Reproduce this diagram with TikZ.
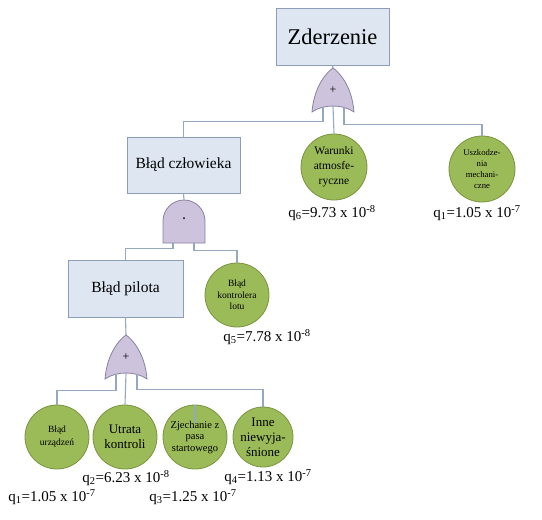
\documentclass[tikz,border=0pt]{standalone}
\usepackage{fontspec}
\setmainfont{Liberation Serif}[Ligatures=TeX]
\usetikzlibrary{calc,positioning}
\definecolor{boxfill}{HTML}{DDE6F1}
\definecolor{boxline}{HTML}{8C9DB5}
\definecolor{gatefill}{HTML}{CDC3DC}
\definecolor{gateline}{HTML}{8A80A2}
\definecolor{leaffill}{HTML}{9BBB59}
\definecolor{leafline}{HTML}{7A9440}
\definecolor{wiregray}{HTML}{95A8BF}

% OR gate, apex at (#2,#3)
\newcommand{\orgate}[3]{%
  \begin{scope}[shift={(#2,#3)}]
    \draw[gatebody] (0,0) .. controls (-6,4) and (-19,18) .. (-21,44)
      .. controls (-10,36) and (10,36) .. (21,44)
      .. controls (19,18) and (6,4) .. cycle;
    \node[font=\fontsize{12}{14}\selectfont] at (0,22) {+};
    \coordinate (#1-top) at (0,0);
    \coordinate (#1-l) at (-10,39);
    \coordinate (#1-m) at (0,38);
    \coordinate (#1-r) at (11,39);
  \end{scope}}
% AND gate, top at (#2,#3)
\newcommand{\andgate}[3]{%
  \begin{scope}[shift={(#2,#3)}]
    \draw[gatebody] (-21,43) -- (-21,21) arc (180:360:21) -- (21,43) -- cycle;
    \fill (0,18) circle (1pt);
    \coordinate (#1-top) at (0,0);
    \coordinate (#1-l) at (-11,43);
    \coordinate (#1-r) at (10,43);
  \end{scope}}

\begin{document}
\begin{tikzpicture}[x=1pt, y=-1pt,
    evbox/.style={draw=boxline, fill=boxfill, line width=0.8pt, inner sep=0pt},
    gatebody/.style={draw=gateline, fill=gatefill, line width=0.8pt},
    basic/.style={circle, draw=leafline, fill=leaffill, line width=0.8pt, inner sep=0pt, align=center},
    wire/.style={draw=wiregray, line width=1.1pt},
    prob/.style={font=\fontsize{15}{17}\selectfont, inner sep=0pt}]
  \useasboundingbox (0,0) rectangle (542,520);

  % events
  \node[evbox, minimum width=113pt, minimum height=57pt, font=\fontsize{22.5}{26}\selectfont] (zder) at (332.5,36.5) {Zderzenie};
  \node[evbox, minimum width=113pt, minimum height=56pt, font=\fontsize{15.5}{18}\selectfont] (czl) at (183.5,165) {Błąd człowieka};
  \node[evbox, minimum width=115pt, minimum height=57pt, font=\fontsize{15.5}{18}\selectfont] (pil) at (125.5,288.5) {Błąd pilota};

  % basic events
  \node[basic, minimum size=66pt, font=\fontsize{11.5}{15}\selectfont] (war) at (334,167) {Warunki\\atmosfe-\\ryczne};
  \node[basic, minimum size=66pt, font=\fontsize{8.7}{11}\selectfont] (usz) at (482,169) {Uszkodze-\\nia\\mechani-\\czne};
  \node[basic, minimum size=64pt, font=\fontsize{9.5}{11.5}\selectfont] (kon) at (237,295) {Błąd\\kontrolera\\lotu};
  \node[basic, minimum size=64pt, font=\fontsize{9.5}{13}\selectfont] (urz) at (57,437) {Błąd\\urządzeń};
  \node[basic, minimum size=64pt, font=\fontsize{13}{15}\selectfont] (utr) at (125,437) {Utrata\\kontroli};
  \node[basic, minimum size=64pt, font=\fontsize{10.5}{11.5}\selectfont] (zje) at (195,437) {Zjechanie z\\pasa\\startowego};
  \node[basic, minimum size=60pt, font=\fontsize{13}{15}\selectfont] (inn) at (263,437) {Inne\\niewyja-\\śnione};

  % gates
  \orgate{g1}{333}{68}
  \andgate{g2}{184}{200}
  \orgate{g3}{126}{335}

  % connectors
  \draw[wire] (zder.south) -- (g1-top);
  \draw[wire] (g1-l) |- ([yshift=15pt]czl.north) -- (czl.north);
  \draw[wire] (g1-m) -- (war.north);
  \draw[wire] (g1-r) |- ([yshift=11pt]usz.north) -- (usz.north);

  \draw[wire] (czl.south) -- (g2-top);
  \draw[wire] (g2-l) |- ([yshift=11pt]pil.north) -- (pil.north);
  \draw[wire] (g2-r) |- ([yshift=12pt]kon.north) -- (kon.north);

  \draw[wire] (pil.south) -- (g3-top);
  \draw[wire] (g3-l) |- ([yshift=14pt]urz.north) -- (urz.north);
  \draw[wire] (g3-m) -- (utr.north);
  \draw[wire] (g3-r) |- ([yshift=17pt]inn.north) -- (inn.north);
  \draw[wire] (zje.north |- g3-r) ++(0,49) -- (zje.north);

  % probabilities
  \node[prob] (p6) at (332,213) {q\textsubscript{6}=9.73 x 10\textsuperscript{-8}};
  \node[prob] (p1a) at (477,213) {q\textsubscript{1}=1.05 x 10\textsuperscript{-7}};
  \node[prob] (p5) at (267,337) {q\textsubscript{5}=7.78 x 10\textsuperscript{-8}};
  \node[prob] (p2) at (126,478) {q\textsubscript{2}=6.23 x 10\textsuperscript{-8}};
  \node[prob] (p4) at (268,477) {q\textsubscript{4}=1.13 x 10\textsuperscript{-7}};
  \node[prob] (p1b) at (52,497) {q\textsubscript{1}=1.05 x 10\textsuperscript{-7}};
  \node[prob] (p3) at (193,497) {q\textsubscript{3}=1.25 x 10\textsuperscript{-7}};
\end{tikzpicture}
\end{document}
